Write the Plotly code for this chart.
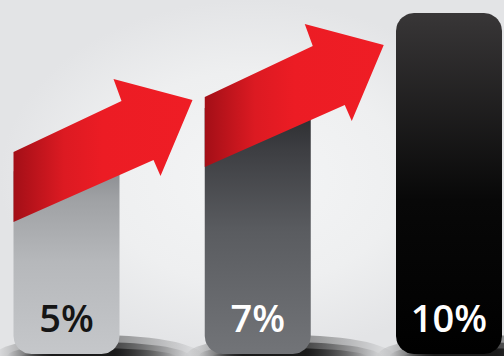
import numpy as np
import plotly.graph_objects as go

# ---- data ----
CATEGORIES = [0, 1, 2]
VALUES = [5, 7, 10]
LABELS = ["5%", "7%", "10%"]

# ---- layout / style constants ----
W, H = 504, 356
SX = 191.25          # px per category step
SY = 31.67           # px per value unit
X0 = -66.5 / SX
X1 = X0 + W / SX
Y0 = -26.3 / SY      # axis floor (value 0 sits above the bar feet)
Y1 = Y0 + H / SY
BAR_FLOOR = Y0 + 2 / SY
BAR_W_PX = 106
CORNER_PX = 18
TOP_RADIUS_PX = [0, 0, 18]
BAR_SCALES = [
    [[0, "#c5c7ca"], [0.5, "#b6b8bb"], [0.85, "#9fa1a4"], [1, "#8c8e92"]],
    [[0, "#727478"], [0.5, "#5a5c60"], [0.82, "#3e3f43"], [1, "#2a2b2e"]],
    [[0, "#000000"], [0.45, "#080808"], [1, "#383637"]],
]
LABEL_COLORS = ["#151515", "#ffffff", "#ffffff"]
LABEL_Y = 0.22
ARROW_BASE_Y = [3.40, 5.14]   # arrow lower-left corner heights (value units)
# arrow outline offsets in px from lower-left corner (x right, y up)
ARROW_PTS_PX = [(0, 0), (0, 70), (108, 121), (100, 143), (179, 122),
                (147, 46), (140, 62), (0, 0)]
ARROW_SCALE = [[0, "#a30f17"], [0.28, "#dc1a22"], [0.5, "#ec1c24"], [1, "#ef1d25"]]


def rounded_rect(xc, w, y0, y1, r_bot, r_top, n=12):
    xl, xr = xc - w / 2, xc + w / 2
    corners = [(xr, y1, r_top, 0, -1, -1), (xl, y1, r_top, 90, 1, -1),
               (xl, y0, r_bot, 180, 1, 1), (xr, y0, r_bot, 270, -1, 1)]
    xs, ys = [], []
    for x, y, r, a0, sx, sy in corners:
        rx, ry = r / SX, r / SY
        cx, cy = x + sx * rx, y + sy * ry
        for a in np.linspace(a0, a0 + 90, n):
            t = np.radians(a)
            xs.append(cx + rx * np.cos(t))
            ys.append(cy + ry * np.sin(t))
    xs.append(xs[0]); ys.append(ys[0])
    return xs, ys


def ellipse(cx, cy, rx_px, ry_px, n=60):
    t = np.linspace(0, 2 * np.pi, n)
    return list(cx + rx_px / SX * np.cos(t)), list(cy + ry_px / SY * np.sin(t))


fig = go.Figure()

# background
fig.add_trace(go.Scatter(
    x=[X0, X1, X1, X0, X0], y=[Y0, Y0, Y1, Y1, Y0], mode="lines",
    line=dict(width=0), fill="toself",
    fillgradient=dict(type="radial", colorscale=[[0, "#f4f5f6"], [0.6, "#eeeff0"], [1, "#e3e4e6"]]),
    hoverinfo="skip", showlegend=False))

bw = BAR_W_PX / SX

# shadows
for i, c in enumerate(CATEGORIES):
    for rx, ry, op in [(105, 22, 0.35), (92, 15, 0.5), (78, 9, 0.65)]:
        ex, ey = ellipse(c + 32 / SX, Y0 - 1 / SY, rx, ry)
        fig.add_trace(go.Scatter(
            x=ex, y=ey, mode="lines", line=dict(width=0), fill="toself",
            fillgradient=dict(type="horizontal", colorscale=[
                [0, "rgba(0,0,0,0)"], [0.2, f"rgba(0,0,0,{op})"],
                [0.6, f"rgba(0,0,0,{op})"], [1, "rgba(0,0,0,0)"]]),
            hoverinfo="skip", showlegend=False))

# bars
for i, (c, v) in enumerate(zip(CATEGORIES, VALUES)):
    bx, by = rounded_rect(c, bw, BAR_FLOOR, v, CORNER_PX, TOP_RADIUS_PX[i])
    fig.add_trace(go.Scatter(
        x=bx, y=by, mode="lines", line=dict(width=0), fill="toself",
        fillgradient=dict(type="vertical", colorscale=BAR_SCALES[i]),
        hoverinfo="skip", showlegend=False))

# arrows
for i, base in enumerate(ARROW_BASE_Y):
    xl = CATEGORIES[i] - bw / 2
    ax = [xl + dx / SX for dx, dy in ARROW_PTS_PX]
    ay = [base + dy / SY for dx, dy in ARROW_PTS_PX]
    fig.add_trace(go.Scatter(
        x=ax, y=ay, mode="lines", line=dict(width=0), fill="toself",
        fillgradient=dict(type="horizontal", colorscale=ARROW_SCALE),
        hoverinfo="skip", showlegend=False))

# labels
fig.add_trace(go.Scatter(
    x=CATEGORIES, y=[LABEL_Y] * len(CATEGORIES), mode="text", text=LABELS,
    textposition="middle center",
    textfont=dict(family="Open Sans", size=38, weight=600, color=LABEL_COLORS),
    hoverinfo="skip", showlegend=False))

fig.update_layout(
    width=W, height=H, margin=dict(l=0, r=0, t=0, b=0),
    paper_bgcolor="#eeeff0", plot_bgcolor="#eeeff0",
    xaxis=dict(range=[X0, X1], visible=False, fixedrange=True),
    yaxis=dict(range=[Y0, Y1], visible=False, fixedrange=True),
    showlegend=False,
)

fig.write_html("out.html", config={"displayModeBar": False})
